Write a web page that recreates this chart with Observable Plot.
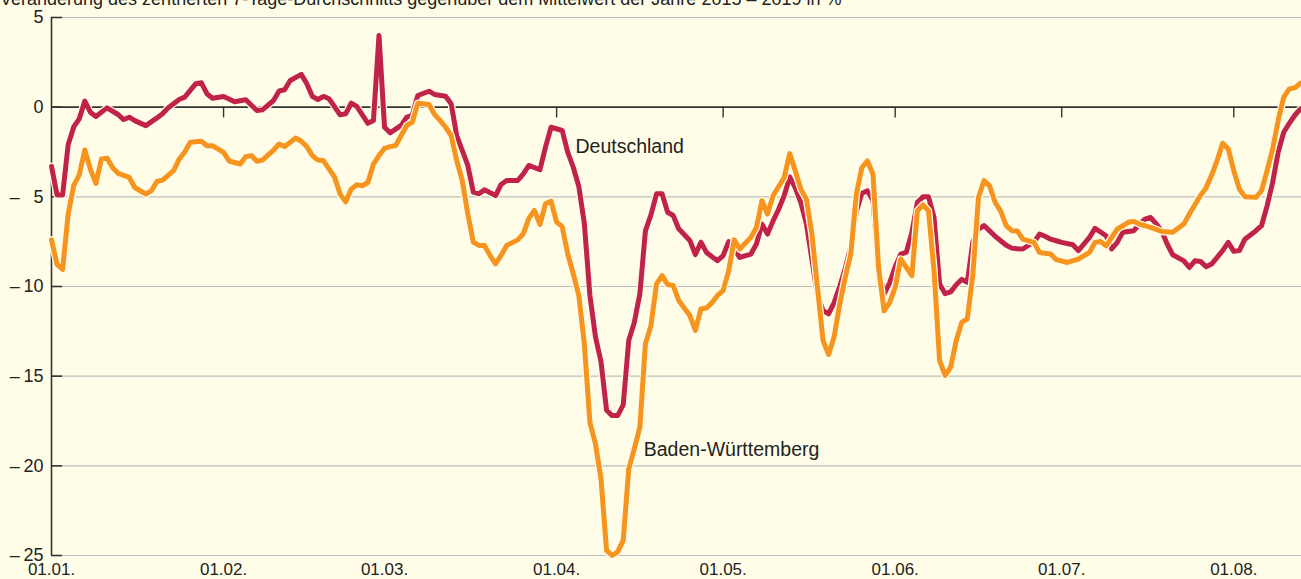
<!DOCTYPE html>
<html>
<head>
<meta charset="utf-8">
<script src="https://cdn.jsdelivr.net/npm/d3@7"></script>
<script src="https://cdn.jsdelivr.net/npm/@observablehq/plot@0.6"></script>
<style>
  html, body { margin: 0; padding: 0; background: #FFFDE7; overflow: hidden; }
  #wrap { position: relative; width: 1301px; height: 579px; }
  #title { position: absolute; left: 0; top: -10px; font-family: "Liberation Sans", Arial, sans-serif; font-size: 18px; line-height: 18px; color: #222; white-space: nowrap; }
</style>
</head>
<body>
<div id="wrap">
  <div id="chart"></div>
  <div id="title">Veränderung des zentrierten 7-Tage-Durchschnitts gegenüber dem Mittelwert der Jahre 2015 – 2019 in %</div>
</div>
<script>
// Day offsets from 01.01.2020 and values (%)
const deDays = [0,1,2,3,4,5,6,7,8,10,12,13,14,15,17,19,20,21,23,24,26,27,28,29,31,33,35,37,38,40,41,42,43,45,46,47,48,49,50,52,53,54,55,57,58,59,60,61,63,64,65,66,68,69,71,72,73,75,76,77,78,80,81,82,84,85,86,88,89,90,92,93,94,95,96,97,98,99,100,101,102,103,104,105,106,107,108,109,110,111,112,113,115,116,117,118,119,120,121,122,124,126,127,128,129,130,131,132,133,134,135,136,137,138,139,140,141,142,143,144,145,146,147,148,149,150,151,152,153,154,155,156,157,158,159,160,161,162,163,164,165,166,167,168,169,170,171,172,173,174,175,176,177,178,179,180,181,182,184,185,187,188,190,191,192,193,195,196,197,198,199,200,201,202,204,205,206,207,208,209,211,212,213,214,215,217,218,219,220,221,222,223,224,225];
const deValues = [-3.3,-4.9,-4.9,-2.1,-1.1,-0.65,0.34,-0.28,-0.52,-0.04,-0.41,-0.69,-0.56,-0.75,-1.03,-0.6,-0.37,-0.04,0.43,0.56,1.31,1.36,0.75,0.5,0.6,0.3,0.41,-0.19,-0.15,0.37,0.9,0.97,1.49,1.83,1.31,0.6,0.43,0.6,0.47,-0.43,-0.37,0.22,0.04,-0.9,-0.75,4.0,-1.12,-1.43,-1.02,-0.56,-0.46,0.65,0.89,0.71,0.61,0.19,-1.58,-3.25,-4.74,-4.83,-4.61,-4.93,-4.31,-4.09,-4.09,-3.72,-3.25,-3.49,-2.23,-1.12,-1.3,-2.51,-3.35,-4.42,-6.5,-10.5,-12.8,-14.2,-16.9,-17.2,-17.2,-16.6,-13.0,-12.0,-10.4,-6.9,-6.0,-4.83,-4.83,-5.86,-6.04,-6.78,-7.43,-8.22,-7.53,-8.1,-8.34,-8.56,-8.28,-7.5,-8.38,-8.19,-7.63,-6.52,-7.08,-6.34,-5.69,-4.94,-3.89,-4.5,-5.32,-6.5,-8.5,-10.5,-11.35,-11.53,-10.9,-10.0,-9.0,-7.8,-5.8,-4.8,-4.67,-5.2,-9.0,-10.42,-9.8,-8.9,-8.19,-8.1,-7.0,-5.3,-5.0,-5.0,-6.15,-9.86,-10.4,-10.3,-9.9,-9.6,-9.77,-7.5,-6.8,-6.6,-6.9,-7.2,-7.45,-7.7,-7.86,-7.9,-7.91,-7.7,-7.54,-7.08,-7.2,-7.36,-7.45,-7.54,-7.67,-8.0,-7.26,-6.76,-7.17,-7.91,-7.54,-6.98,-6.89,-6.52,-6.24,-6.15,-6.5,-6.89,-7.63,-8.23,-8.57,-8.94,-8.57,-8.6,-8.9,-8.75,-8.0,-7.54,-8.04,-8.0,-7.36,-6.89,-6.61,-5.5,-4.2,-2.5,-1.4,-0.9,-0.45,-0.1];

const bwDays = [0,1,2,3,4,5,6,7,8,9,10,11,12,14,15,17,18,19,20,22,23,24,25,27,28,29,31,32,34,35,36,37,38,40,41,42,44,45,46,47,48,49,51,52,53,54,55,56,57,58,59,60,61,62,63,64,65,66,68,69,70,71,72,73,74,75,76,77,78,79,80,81,82,84,85,86,87,88,89,90,91,92,93,94,95,96,97,98,99,100,101,102,103,104,105,106,107,108,109,110,111,112,113,115,116,117,118,119,120,121,122,123,124,126,127,128,129,130,132,133,134,135,136,137,138,139,140,141,142,143,144,145,146,147,148,149,150,151,152,153,154,155,156,157,158,159,160,161,162,163,164,165,166,167,168,169,170,171,172,173,174,175,177,178,180,181,183,185,187,188,189,190,192,194,195,196,198,200,202,204,205,207,208,209,210,211,212,213,214,215,217,218,219,220,221,222,223,224,225];
const bwValues = [-7.4,-8.77,-9.05,-5.97,-4.38,-3.77,-2.39,-3.45,-4.25,-2.89,-2.84,-3.36,-3.69,-3.92,-4.48,-4.85,-4.66,-4.14,-4.07,-3.54,-2.9,-2.5,-1.96,-1.9,-2.15,-2.15,-2.52,-3.0,-3.17,-2.76,-2.7,-3.02,-2.95,-2.4,-2.05,-2.2,-1.72,-1.9,-2.2,-2.7,-2.95,-2.99,-3.9,-4.85,-5.28,-4.57,-4.33,-4.38,-4.2,-3.17,-2.7,-2.3,-2.2,-2.14,-1.58,-1.02,-0.84,0.22,0.15,-0.4,-0.74,-1.12,-1.58,-2.97,-4.09,-5.95,-7.53,-7.71,-7.71,-8.27,-8.74,-8.27,-7.71,-7.4,-7.06,-6.2,-5.76,-6.54,-5.39,-5.24,-6.41,-6.65,-8.18,-9.29,-10.5,-13.2,-17.57,-18.77,-20.72,-24.72,-25.0,-24.8,-24.16,-20.17,-19.05,-17.84,-13.2,-12.17,-9.85,-9.39,-9.89,-9.94,-10.78,-11.62,-12.45,-11.25,-11.2,-10.9,-10.5,-10.23,-9.12,-7.4,-7.91,-7.26,-6.71,-5.22,-5.96,-4.94,-3.92,-2.59,-3.55,-4.57,-5.13,-7.08,-10.05,-13.01,-13.79,-12.8,-11.0,-9.5,-8.19,-4.85,-3.37,-3.0,-3.74,-8.93,-11.35,-10.9,-10.05,-8.47,-8.93,-9.4,-5.78,-5.45,-5.78,-9.12,-14.13,-14.96,-14.5,-13.01,-12.0,-11.8,-9.3,-5.04,-4.1,-4.39,-5.3,-5.8,-6.61,-6.89,-6.9,-7.36,-7.54,-8.1,-8.19,-8.5,-8.66,-8.47,-8.1,-7.54,-7.49,-7.73,-6.8,-6.42,-6.37,-6.52,-6.7,-6.93,-6.98,-6.52,-5.96,-4.93,-4.5,-3.8,-2.98,-2.01,-2.33,-3.54,-4.56,-4.99,-5.03,-4.66,-3.54,-2.33,-0.74,0.56,1.02,1.08,1.34];

const yTicks = [5, 0, -5, -10, -15, -20, -25];
const monthStarts = ["2020-01-01","2020-02-01","2020-03-01","2020-04-01","2020-05-01","2020-06-01","2020-07-01","2020-08-01"];
const seriesNames = ["Deutschland", "Baden-Württemberg"];
const labelDays = [94.4, 106.7];
const labelValues = [-2.2, -19.1];

const DAY = 864e5;
const start = Date.UTC(2020, 0, 1);
const toDate = d => new Date(start + d * DAY);
const de = deDays.map((d, i) => ({date: toDate(d), value: deValues[i]}));
const bw = bwDays.map((d, i) => ({date: toDate(d), value: bwValues[i]}));
const months = monthStarts.map(s => new Date(s + "T00:00:00Z"));
const labels = seriesNames.map((n, i) => ({name: n, date: toDate(labelDays[i]), value: labelValues[i]}));

const BG = "#FFFDE7";
const RED = "#C1224A";
const ORANGE = "#F7941E";

const fmtY = v => v >= 0 ? String(v) : (Math.abs(v) < 10 ? "–\u2009\u2007" + Math.abs(v) : "–\u2009" + Math.abs(v));

const chart = Plot.plot({
  width: 1301,
  height: 579,
  marginLeft: 51,
  marginRight: 0,
  marginTop: 17,
  marginBottom: 24,
  style: {background: "transparent", fontFamily: "'Liberation Sans', Arial, sans-serif", fontSize: "18px", color: "#222"},
  x: {type: "utc", domain: [new Date(start), new Date(start + 225.2 * DAY)], label: null},
  y: {domain: [-25, 5], label: null},
  marks: [
    Plot.ruleY(yTicks.filter(v => v !== 0), {stroke: "#bdbdbd", strokeWidth: 1.2}),
    Plot.ruleY([0], {stroke: "#333", strokeWidth: 1.6}),
    Plot.ruleX(months.slice(1), {y1: 0, y2: -0.6, stroke: "#333", strokeWidth: 1.4}),
    Plot.ruleX([months[0]], {stroke: "#333", strokeWidth: 1.6}),
    Plot.axisY({ticks: yTicks, tickSize: -11, tickPadding: 19, tickFormat: fmtY, stroke: "#333", strokeWidth: 1.6, fill: "#222", fontSize: 18, label: null}),
    Plot.axisX({ticks: months, tickSize: 0, tickPadding: 7, tickFormat: d3.utcFormat("%d.%m."), fill: "#222", fontSize: 17, label: null}),
    Plot.line(de, {x: "date", y: "value", stroke: BG, strokeWidth: 7.5, strokeLinejoin: "round"}),
    Plot.line(de, {x: "date", y: "value", stroke: RED, strokeWidth: 5, strokeLinejoin: "round"}),
    Plot.line(bw, {x: "date", y: "value", stroke: BG, strokeWidth: 7.5, strokeLinejoin: "round"}),
    Plot.line(bw, {x: "date", y: "value", stroke: ORANGE, strokeWidth: 5, strokeLinejoin: "round"}),
    Plot.text(labels, {x: "date", y: "value", text: "name", textAnchor: "start", fill: "#222", fontSize: 19.5})
  ]
});
document.getElementById("chart").appendChild(chart);
</script>
</body>
</html>
